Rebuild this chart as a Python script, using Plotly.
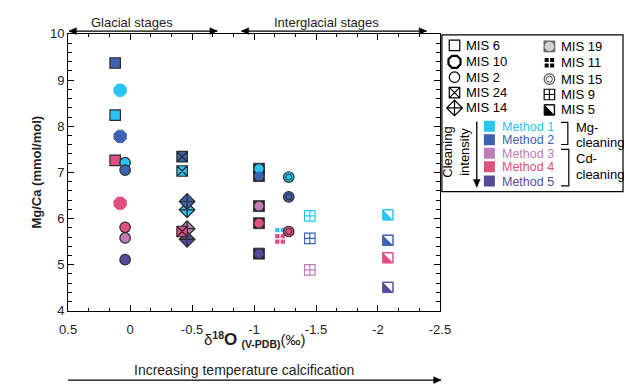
import plotly.graph_objects as go

W, H = 635, 391
FONT = "Liberation Sans, Arial, sans-serif"
DARK = "#2b2b2b"

# ---------------- data ----------------
METHOD_NAMES = ["Method 1", "Method 2", "Method 3", "Method 4", "Method 5"]
METHOD_COLORS = ["#29C4F2", "#3D62B0", "#BF7CB5", "#E0507F", "#574A9C"]

X_TICKS = [0.5, 0, -0.5, -1, -1.5, -2, -2.5]
X_TICK_TEXT = ["0.5", "0", "-0.5", "-1", "-1.5", "-2", "-2.5"]
Y_TICKS = [4, 5, 6, 7, 8, 9, 10]
Y_TICK_TEXT = ["4", "5", "6", "7", "8", "9", "10"]

MIS6_D18O = 0.12
MIS6_METHOD = [1, 2, 4]
MIS6_MGCA = [8.24, 9.37, 7.26]

MIS10_D18O = 0.08
MIS10_METHOD = [1, 2, 4]
MIS10_MGCA = [8.78, 7.78, 6.33]

MIS2_D18O = 0.04
MIS2_METHOD = [1, 2, 4, 3, 5]
MIS2_MGCA = [7.21, 7.05, 5.81, 5.58, 5.11]

MIS14_D18O = -0.46
MIS14_METHOD = [1, 2, 3, 5]
MIS14_MGCA = [6.19, 6.37, 5.78, 5.55]

MIS24_D18O = -0.42
MIS24_METHOD = [1, 2, 4]
MIS24_MGCA = [7.03, 7.34, 5.72]

MIS19_D18O = -1.04
MIS19_METHOD = [1, 2, 3, 4, 5]
MIS19_MGCA = [7.08, 6.92, 6.27, 5.90, 5.24]

MIS11_D18O = -1.21
MIS11_METHOD = [1, 4]
MIS11_MGCA = [5.69, 5.56]

MIS15_D18O = -1.28
MIS15_METHOD = [1, 2, 4]
MIS15_MGCA = [6.90, 6.47, 5.72]

MIS9_D18O = -1.45
MIS9_METHOD = [1, 2, 3]
MIS9_MGCA = [6.06, 5.57, 4.89]

MIS5_D18O = -2.08
MIS5_METHOD = [1, 2, 4, 5]
MIS5_MGCA = [6.08, 5.53, 5.15, 4.51]

LEGEND_LEFT = ["MIS 6", "MIS 10", "MIS 2", "MIS 24", "MIS 14"]
LEGEND_RIGHT = ["MIS 19", "MIS 11", "MIS 15", "MIS 9", "MIS 5"]


# ---------------- helpers ----------------
def px(x):
    return x / W


def py(y):
    return 1 - y / H


def cols(methods):
    return [METHOD_COLORS[m - 1] for m in methods]


fig = go.Figure()


def add(x, methods, ys, symbol, size, fill=None, line_color=DARK, line_width=1.2,
        xaxis="x", yaxis="y"):
    fig.add_trace(go.Scatter(
        x=[x] * len(ys), y=ys, mode="markers", showlegend=False, hoverinfo="skip",
        xaxis=xaxis, yaxis=yaxis, cliponaxis=False,
        marker=dict(symbol=symbol, size=size,
                    color=fill if fill is not None else cols(methods),
                    line=dict(color=line_color, width=line_width)),
    ))


TRI = "M -4.3 4.3 L 4.3 4.3 L 4.3 -4.3 Z"


def white_triangle(x, y, xref="x", yref="y", color="white"):
    fig.add_shape(type="path", xref=xref, yref=yref, xsizemode="pixel",
                  ysizemode="pixel", xanchor=x, yanchor=y, path=TRI,
                  fillcolor=color, line=dict(width=0), layer="above")


# ---------------- main plot marks ----------------
add(MIS6_D18O, MIS6_METHOD, MIS6_MGCA, "square", 10.5)
add(MIS10_D18O, MIS10_METHOD, MIS10_MGCA, "octagon", 13.5,
    line_color=cols(MIS10_METHOD), line_width=0.8)
add(MIS2_D18O, MIS2_METHOD, MIS2_MGCA, "circle", 10.5)
add(MIS14_D18O, MIS14_METHOD, MIS14_MGCA, "diamond-cross", 12)
add(MIS24_D18O, MIS24_METHOD, MIS24_MGCA, "square-x", 10.5)
# MIS 19: dark square with coloured disc
add(MIS19_D18O, MIS19_METHOD, MIS19_MGCA, "square", 11, fill=DARK, line_width=0.8)
add(MIS19_D18O, MIS19_METHOD, MIS19_MGCA, "circle", 9, line_width=0)
# MIS 11: filled square with white cross
add(MIS11_D18O, MIS11_METHOD, MIS11_MGCA, "square-cross", 11, line_color="white",
    line_width=1.2)
# MIS 15: double circle
add(MIS15_D18O, MIS15_METHOD, MIS15_MGCA, "circle", 10.5)
add(MIS15_D18O, MIS15_METHOD, MIS15_MGCA, "circle-open", 6, fill=DARK, line_width=1)
# MIS 9: open square with cross
add(MIS9_D18O, MIS9_METHOD, MIS9_MGCA, "square-cross-open", 10.5,
    line_color=cols(MIS9_METHOD), line_width=1.2)
# MIS 5: half-filled square
add(MIS5_D18O, MIS5_METHOD, MIS5_MGCA, "square", 10.5,
    line_color=cols(MIS5_METHOD), line_width=1)
for v in MIS5_MGCA:
    white_triangle(MIS5_D18O, v)

# ---------------- custom legend (pixel-coordinate axes) ----------------
LX0, LX1, LY0, LY1 = 447, 634, 29, 192
LEFT_ROWS = [40, 57, 73, 89, 105]
RIGHT_ROWS = [41, 58, 75, 91, 107]
LEFT_SYMBOLS = [("square", 10.5, "white", 1.2), ("octagon", 13, "white", 2.2),
                ("circle", 10.5, "white", 1.2), ("square-x", 10.5, "white", 1.2),
                ("diamond-cross", 12, "white", 1.2)]

for (sym, sz, fill, lw), yy, name in zip(LEFT_SYMBOLS, LEFT_ROWS, LEGEND_LEFT):
    fig.add_trace(go.Scatter(x=[460], y=[yy], xaxis="x2", yaxis="y2", mode="markers",
                             showlegend=False, hoverinfo="skip",
                             marker=dict(symbol=sym, size=sz, color=fill,
                                         line=dict(color="black", width=lw))))
    fig.add_annotation(x=470, y=yy, xref="x2", yref="y2", text=name, showarrow=False,
                       xanchor="left", yanchor="middle", height=15,
                       font=dict(family=FONT, size=13, color="black"))

RX = 558
# MIS 19
fig.add_trace(go.Scatter(x=[RX, RX], y=[RIGHT_ROWS[0]] * 2, xaxis="x2", yaxis="y2",
                         mode="markers", showlegend=False, hoverinfo="skip",
                         marker=dict(symbol=["square", "circle"], size=[11, 9.5],
                                     color=[DARK, "white"],
                                     line=dict(color=DARK, width=[0.8, 0]))))
# MIS 11
fig.add_trace(go.Scatter(x=[RX], y=[RIGHT_ROWS[1]], xaxis="x2", yaxis="y2",
                         mode="markers", showlegend=False, hoverinfo="skip",
                         marker=dict(symbol="square-cross", size=11, color="black",
                                     line=dict(color="white", width=1.5))))
# MIS 15
fig.add_trace(go.Scatter(x=[RX, RX], y=[RIGHT_ROWS[2]] * 2, xaxis="x2", yaxis="y2",
                         mode="markers", showlegend=False, hoverinfo="skip",
                         marker=dict(symbol=["circle", "circle-open"], size=[10.5, 6],
                                     color=["white", "black"],
                                     line=dict(color="black", width=[1.2, 1]))))
# MIS 9
fig.add_trace(go.Scatter(x=[RX], y=[RIGHT_ROWS[3]], xaxis="x2", yaxis="y2",
                         mode="markers", showlegend=False, hoverinfo="skip",
                         marker=dict(symbol="square-cross-open", size=10.5,
                                     color="black", line=dict(color="black", width=1.2))))
# MIS 5
fig.add_trace(go.Scatter(x=[RX], y=[RIGHT_ROWS[4]], xaxis="x2", yaxis="y2",
                         mode="markers", showlegend=False, hoverinfo="skip",
                         marker=dict(symbol="square", size=10.5, color="black",
                                     line=dict(color="black", width=1))))
white_triangle(RX, RIGHT_ROWS[4], xref="x2", yref="y2")

for yy, name in zip(RIGHT_ROWS, LEGEND_RIGHT):
    fig.add_annotation(x=568, y=yy, xref="x2", yref="y2", text=name, showarrow=False,
                       xanchor="left", yanchor="middle", height=15,
                       font=dict(family=FONT, size=13, color="black"))

# methods
METHOD_ROWS = [124, 138, 152, 166, 181]
fig.add_trace(go.Scatter(x=[496] * 5, y=METHOD_ROWS, xaxis="x2", yaxis="y2",
                         mode="markers", showlegend=False, hoverinfo="skip",
                         marker=dict(symbol="square", size=11, color=METHOD_COLORS,
                                     line=dict(width=0))))
for yy, name, c in zip(METHOD_ROWS, METHOD_NAMES, METHOD_COLORS):
    fig.add_annotation(x=507, y=yy, xref="x2", yref="y2", text=name, showarrow=False,
                       xanchor="left", yanchor="middle", height=13,
                       font=dict(family=FONT, size=12.5, color=c))

fig.add_annotation(x=462, y=151, xref="x2", yref="y2", text="Cleaning<br>intensity",
                   showarrow=False, textangle=-90, xanchor="center", yanchor="middle",
                   align="center", font=dict(family=FONT, size=13, color="black"))
# brackets
fig.add_shape(type="path", xref="x2", yref="y2", path="M 570 120 H 577 V 143 H 570",
              line=dict(color="black", width=1.2))
fig.add_shape(type="path", xref="x2", yref="y2", path="M 570 148 H 578 V 186 H 570",
              line=dict(color="black", width=1.2))
for yy, t in [(125, "Mg-"), (141, "cleaning"), (158, "Cd-"), (174, "cleaning")]:
    fig.add_annotation(x=583, y=yy, xref="x2", yref="y2", text=t, showarrow=False,
                       xanchor="left", yanchor="middle", height=15,
                       font=dict(family=FONT, size=13, color="black"))
# legend frame
fig.add_shape(type="rect", xref="paper", yref="paper", x0=px(LX0), x1=px(LX1),
              y0=py(LY1), y1=py(LY0), line=dict(color="black", width=1.2))


# ---------------- arrows (drawn as shapes, figure-pixel positions) ----------------
def head(xt, yt, dx, dy, L=7.5, hw=3.5):
    bx, by = xt - dx * L, yt - dy * L
    nx, ny = -dy * hw, dx * hw
    pts = [(xt, yt), (bx + nx, by + ny), (bx - nx, by - ny)]
    path = "M " + " L ".join(f"{px(a):.5f},{py(b):.5f}" for a, b in pts) + " Z"
    fig.add_shape(type="path", xref="paper", yref="paper", path=path,
                  fillcolor="black", line=dict(color="black", width=0.5))


def arrow(x0, y0, x1, y1, both=False):
    fig.add_shape(type="line", xref="paper", yref="paper", x0=px(x0), y0=py(y0),
                  x1=px(x1), y1=py(y1), line=dict(color="black", width=1.3))
    L = ((x1 - x0) ** 2 + (y1 - y0) ** 2) ** 0.5
    dx, dy = (x1 - x0) / L, (y1 - y0) / L
    head(x1, y1, dx, dy)
    if both:
        head(x0, y0, -dx, -dy)


def label(x, y, text, size=13, **kw):
    fig.add_annotation(x=px(x), y=py(y), xref="paper", yref="paper", text=text,
                       showarrow=False, xanchor="center", yanchor="middle",
                       font=dict(family=FONT, size=size, color="#222"), **kw)


arrow(483, 119, 483, 187)                 # cleaning intensity
label(127, 16, "Glacial stages")
label(328, 16, "Interglacial stages")
arrow(62, 25, 215, 25, both=True)
arrow(240, 25, 431, 25, both=True)

label(28, 172, "<b>Mg/Ca (mmol/mol)</b>", size=13, textangle=-90)
label(254, 346, "δ<sup><b>18</b></sup><span style='font-size:17px'><b>O</b></span>"
      " <sub><b>(V-PDB)</b></sub><span style='font-size:15px'>(‰)</span>", size=15)
label(243, 377, "Increasing temperature calcification", size=14)
arrow(61, 388, 446, 388)

# ---------------- axes ----------------
axis_common = dict(showgrid=False, zeroline=False, showline=True, linecolor="black",
                   linewidth=1.2, mirror="ticks", ticks="inside", ticklen=6,
                   tickwidth=1, tickcolor="black",
                   tickfont=dict(family=FONT, size=13, color="#222"))

fig.update_layout(
    width=W, height=H, margin=dict(l=0, r=0, t=0, b=0),
    paper_bgcolor="white", plot_bgcolor="white",
    xaxis=dict(domain=[px(61), px(445)], range=[0.5, -2.5], tickmode="array",
               tickvals=X_TICKS, ticktext=X_TICK_TEXT, anchor="y",
               ticklabelstandoff=6,
               minor=dict(tickmode="linear", tick0=0.5, dtick=0.5 / 3, ticks="inside",
                          ticklen=3, tickcolor="black", tickwidth=1),
               **axis_common),
    yaxis=dict(domain=[py(316), py(28)], range=[4, 10], tickmode="array",
               tickvals=Y_TICKS, ticktext=Y_TICK_TEXT, anchor="x",
               minor=dict(tickmode="linear", tick0=4, dtick=0.2, ticks="inside",
                          ticklen=3.5, tickcolor="black", tickwidth=1),
               **axis_common),
    xaxis2=dict(domain=[px(LX0), px(LX1)], range=[LX0, LX1], visible=False,
                anchor="y2", fixedrange=True),
    yaxis2=dict(domain=[py(LY1), py(LY0)], range=[LY1, LY0], visible=False,
                anchor="x2", fixedrange=True),
    showlegend=False,
)

fig.write_html("out.html", config={"displayModeBar": False},
               post_script="document.body.style.margin='0px';"
                           "document.body.style.overflow='hidden';")
